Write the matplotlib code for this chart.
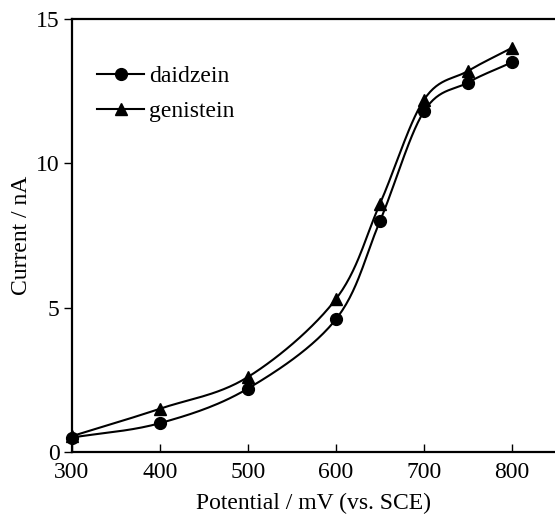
import numpy as np
import matplotlib
matplotlib.use("Agg")
import matplotlib.pyplot as plt

potential = [300, 400, 500, 600, 650, 700, 750, 800]
daidzein = [0.5, 1.0, 2.2, 4.6, 8.0, 11.8, 12.8, 13.5]
genistein = [0.55, 1.5, 2.6, 5.3, 8.6, 12.2, 13.2, 14.0]
xticks = [300, 400, 500, 600, 700, 800]
yticks = [0, 5, 10, 15]

plt.rcParams['font.family'] = ['Liberation Serif', 'DejaVu Serif']


def smooth(x, y, n=30):
    # Catmull-Rom spline through points (parametric), like Excel smoothing
    x = np.asarray(x, float); y = np.asarray(y, float)
    P = np.column_stack([x, y])
    P = np.vstack([P[0] - (P[1] - P[0]), P, P[-1] + (P[-1] - P[-2])])
    out = []
    for i in range(1, len(P) - 2):
        p0, p1, p2, p3 = P[i - 1], P[i], P[i + 1], P[i + 2]
        t = np.linspace(0, 1, n)[:, None]
        pts = 0.5 * ((2 * p1) + (-p0 + p2) * t + (2 * p0 - 5 * p1 + 4 * p2 - p3) * t ** 2
                     + (-p0 + 3 * p1 - 3 * p2 + p3) * t ** 3)
        out.append(pts if i == 1 else pts[1:])
    pts = np.vstack(out)
    return pts[:, 0], pts[:, 1]


fig = plt.figure(figsize=(5.55, 5.15), dpi=100)
ax = fig.add_axes([0.1297, 0.1223, 0.872, 0.8408])

for data, mk, lab in [(daidzein, 'o', 'daidzein'), (genistein, '^', 'genistein')]:
    sx, sy = smooth(potential, data)
    ax.plot(sx, sy, color='black', lw=1.5, zorder=2)
    ax.plot(potential, data, linestyle='none', marker=mk, color='black', ms=8.5,
            zorder=3, clip_on=False)
    ax.plot([], [], color='black', lw=1.5, marker=mk, ms=8.5, label=lab)

ax.set_xlim(300, 850)
ax.set_ylim(0, 15)
ax.set_xticks(xticks)
ax.set_yticks(yticks)
ax.tick_params(axis='x', direction='in', length=6, width=1, labelsize=17, pad=7)
ax.tick_params(axis='y', direction='out', length=6, width=1, labelsize=17, pad=3)
for s in ['left', 'bottom', 'top']:
    ax.spines[s].set_linewidth(1.6)
ax.spines['right'].set_visible(False)

ax.set_xlabel('Potential / mV (vs. SCE)', fontsize=17, labelpad=7)
ax.set_ylabel('Current / nA', fontsize=17, labelpad=3)

ax.legend(loc='upper left', bbox_to_anchor=(0.052, 0.892), frameon=False, fontsize=17,
          handlelength=2.0, handletextpad=0.2, labelspacing=0.55, borderaxespad=0,
          borderpad=0)

fig.savefig('out.png', dpi=100)
